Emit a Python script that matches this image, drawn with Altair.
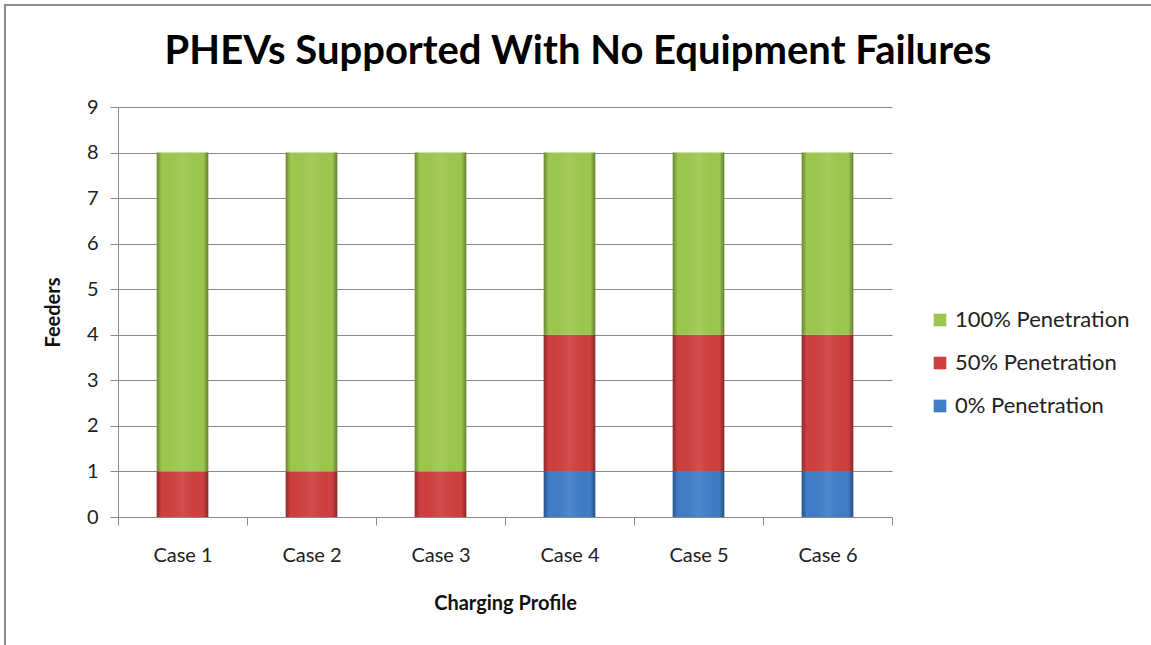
import altair as alt
import pandas as pd

# Chart values
cases = ["Case 1", "Case 2", "Case 3", "Case 4", "Case 5", "Case 6"]
series = ["0% Penetration", "50% Penetration", "100% Penetration"]
pen_0 = [0, 0, 0, 1, 1, 1]
pen_50 = [1, 1, 1, 3, 3, 3]
pen_100 = [7, 7, 7, 4, 4, 4]
y_ticks = [0, 1, 2, 3, 4, 5, 6, 7, 8, 9]
chart_title = "PHEVs Supported With No Equipment Failures"

legend_order = ["100% Penetration", "50% Penetration", "0% Penetration"]
legend_colors = ["#9DC84E", "#D03F3F", "#3F7DC8"]

rows = []
for i, c in enumerate(cases):
    for k, (s, vals) in enumerate(zip(series, [pen_0, pen_50, pen_100])):
        rows.append({"case": c, "series": s, "feeders": vals[i], "stack_order": k})
df = pd.DataFrame(rows)

FONT = "Lato"
GRAY = "#8a8a8a"

x_scale = alt.Scale(paddingInner=0, paddingOuter=0)
y_scale = alt.Scale(domain=[0, 9], nice=False)

x_axis = alt.Axis(
    labelAngle=0, tickBand="extent", tickSize=8, tickColor=GRAY,
    domainColor=GRAY, labelFont=FONT, labelFontSize=20,
    labelColor="#222222", labelPadding=20, titleFont=FONT,
    titleFontSize=20, titleFontWeight="bold", titleColor="#111111",
    titlePadding=28, grid=False,
)
y_axis = alt.Axis(
    values=y_ticks, format="d", tickSize=8, tickColor=GRAY,
    domainColor=GRAY, gridColor=GRAY, gridOpacity=1,
    labelFont=FONT, labelFontSize=20, labelColor="#222222",
    labelPadding=12, titleFont=FONT, titleFontSize=20,
    titleFontWeight="bold", titleColor="#111111", titlePadding=23,
)

x_enc = alt.X("case:N", sort=cases, scale=x_scale, title="Charging Profile", axis=x_axis)
y_enc = alt.Y("feeders:Q", stack="zero", scale=y_scale, title="Feeders", axis=y_axis)

bars = alt.Chart(df).mark_bar(width={"band": 0.4}).encode(
    x=x_enc,
    y=y_enc,
    color=alt.Color(
        "series:N",
        scale=alt.Scale(domain=legend_order, range=legend_colors),
        legend=alt.Legend(
            title=None, orient="none", legendX=811, legendY=202,
            symbolType="square", symbolSize=160, symbolStrokeWidth=0,
            symbolOpacity=1, labelFont=FONT, labelFontSize=22,
            labelColor="#222222", labelOffset=4, rowPadding=21,
            labelLimit=400,
        ),
    ),
    order=alt.Order("stack_order:Q"),
)

# Bevel shading: darker left and right edges over each segment
shade = alt.LinearGradient(
    gradient="linear", x1=0, x2=1, y1=0, y2=0,
    stops=[
        alt.GradientStop(offset=0, color="rgba(0,0,0,0.32)"),
        alt.GradientStop(offset=0.1, color="rgba(0,0,0,0.0)"),
        alt.GradientStop(offset=0.5, color="rgba(255,255,255,0.08)"),
        alt.GradientStop(offset=0.9, color="rgba(0,0,0,0.0)"),
        alt.GradientStop(offset=1, color="rgba(0,0,0,0.36)"),
    ],
)
overlay = alt.Chart(df).mark_bar(width={"band": 0.4}, fill=shade).encode(
    x=x_enc,
    y=y_enc,
    detail="series:N",
    order=alt.Order("stack_order:Q"),
)

# Outer frame (top and left edges) and the chart heading
single = pd.DataFrame({"k": [0]})
frame_top = alt.Chart(single).mark_rule(color="#8c8c8c", strokeWidth=2).encode(
    x=alt.value(-114), x2=alt.value(1151 - 118), y=alt.value(-102)
)
frame_left = alt.Chart(single).mark_rule(color="#8c8c8c", strokeWidth=2).encode(
    x=alt.value(-113), y=alt.value(-103), y2=alt.value(645 - 107)
)
heading = alt.Chart(single).mark_text(
    text=chart_title, font=FONT, fontSize=40, fontWeight="bold",
    color="#000000", align="center", baseline="alphabetic",
).encode(x=alt.value(460), y=alt.value(-43))

chart = (
    alt.layer(bars, overlay, frame_top, frame_left, heading)
    .properties(
        width=774,
        height=410,
        autosize=alt.AutoSizeParams(type="none"),
        padding={"left": 118, "top": 107, "right": 259, "bottom": 128},
        background="white",
    )
    .configure_view(stroke=None)
)

chart.save("out.html", embed_options={"renderer": "svg", "actions": False})
